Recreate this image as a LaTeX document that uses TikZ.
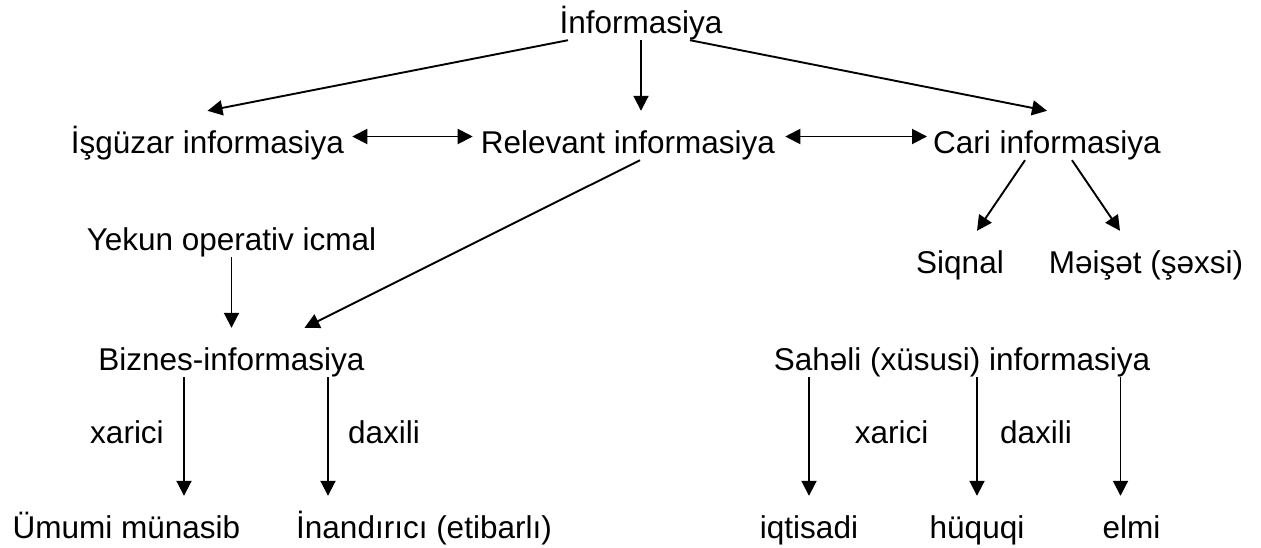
\documentclass[tikz,border=0pt]{standalone}
\usepackage{fontspec}
\setmainfont{Liberation Sans}
\usetikzlibrary{arrows.meta}

\begin{document}
\begin{tikzpicture}[x=1pt, y=-1pt,
    lbl/.style={inner sep=2pt, anchor=base, text height=24pt, text depth=5pt,
        font=\fontsize{31.5}{38}\selectfont},
    arr/.style={line width=1.9pt, -{Triangle[length=15pt,width=15pt]}},
    darr/.style={line width=1.9pt, {Triangle[length=15pt,width=15pt]}-{Triangle[length=15pt,width=15pt]}}]
    \useasboundingbox (0,0) rectangle (1261,547);

    % Top level
    \node[lbl] (info) at (641,33) {İnformasiya};
    \node[lbl] (isg) at (207.5,153) {İşgüzar informasiya};
    \node[lbl] (rel) at (628,153) {Relevant informasiya};
    \node[lbl] (cari) at (1047,153) {Cari informasiya};

    \draw[arr] ([xshift=-73pt]info.south) -- ([yshift=16pt]isg.north);
    \draw[arr] (info.south) -- ([yshift=16pt]info.south |- rel.north);
    \draw[arr] ([xshift=49pt]info.south) -- ([yshift=16pt]cari.north);
    \draw[darr] ([xshift=6pt,yshift=7pt]isg.east) -- ([xshift=-6pt,yshift=7pt]rel.west);
    \draw[darr] ([xshift=8pt,yshift=7pt]rel.east) -- ([xshift=-4pt,yshift=7pt]cari.west);

    % Cari branch
    \node[lbl] (siq) at (960,273) {Siqnal};
    \node[lbl] (mei) at (1146,273) {Məişət (şəxsi)};
    \draw[arr] ([xshift=-22pt]cari.south) -- ([xshift=17pt,yshift=16pt]siq.north);
    \draw[arr] ([xshift=25pt]cari.south) -- ([xshift=-26pt,yshift=16pt]mei.north);

    % Biznes branch
    \node[lbl] (yek) at (231.5,250) {Yekun operativ icmal};
    \node[lbl] (biz) at (231.5,370) {Biznes-informasiya};
    \draw[arr] (yek.south) -- ([yshift=16pt]biz.north);
    \draw[arr] ([xshift=12pt]rel.south) -- ([xshift=73pt,yshift=16pt]biz.north);

    \node[lbl] (umu) at (126.5,538) {Ümumi münasib};
    \node[lbl] (inan) at (424,538) {İnandırıcı (etibarlı)};
    \node[lbl] (xar1) at (127,443) {xarici};
    \node[lbl] (dax1) at (384,443) {daxili};
    \draw[arr] ([xshift=-47.5pt]biz.south) -- ([xshift=-47.5pt,yshift=16pt]biz.south |- umu.north);
    \draw[arr] ([xshift=96.5pt]biz.south) -- ([xshift=96.5pt,yshift=16pt]biz.south |- inan.north);

    % Sahəli branch
    \node[lbl] (sah) at (962,370) {Sahəli (xüsusi) informasiya};
    \node[lbl] (iqt) at (809,538) {iqtisadi};
    \node[lbl] (huq) at (977,538) {hüquqi};
    \node[lbl] (elmi) at (1131.5,538) {elmi};
    \node[lbl] (xar2) at (891.5,443) {xarici};
    \node[lbl] (dax2) at (1036,443) {daxili};
    \draw[arr] (sah.south -| iqt.north) -- ([yshift=16pt]iqt.north);
    \draw[arr] (sah.south -| huq.north) -- ([yshift=16pt]huq.north);
    \draw[arr] ([xshift=-11pt]sah.south -| elmi.north) -- ([xshift=-11pt,yshift=16pt]elmi.north);
\end{tikzpicture}
\end{document}
